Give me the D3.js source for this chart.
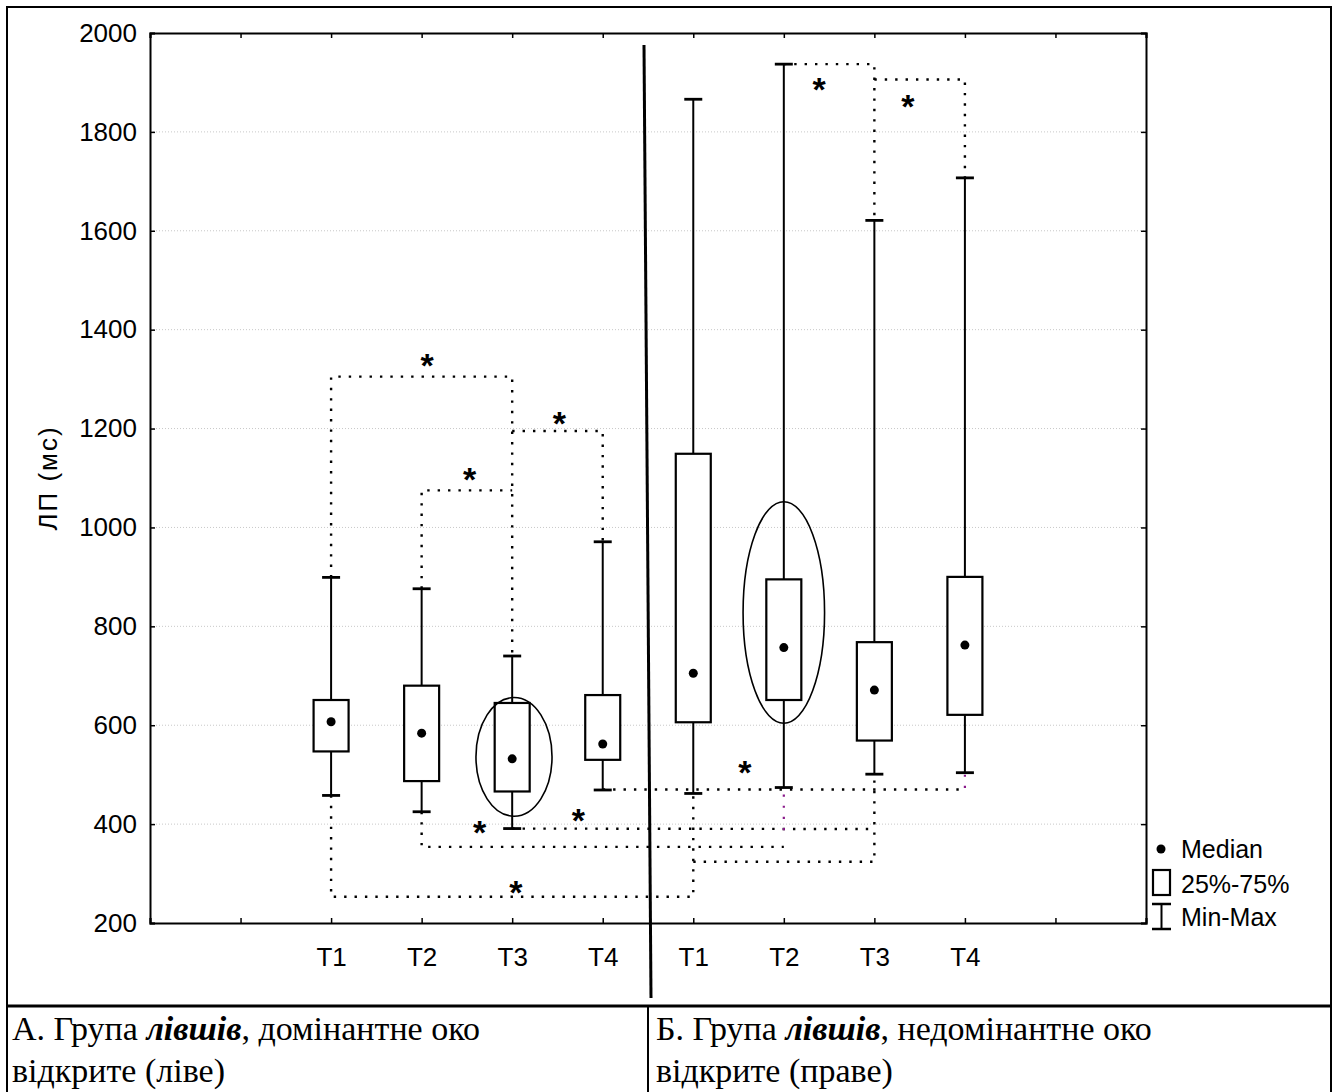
<!DOCTYPE html>
<html>
<head>
<meta charset="utf-8">
<script src="https://cdn.jsdelivr.net/npm/d3@7"></script>
<style>
  body { margin: 0; background: #fff; }
  svg text { font-family: "Liberation Sans", Arial, sans-serif; fill: #000; }
  .caption { font-family: "Liberation Serif", "Times New Roman", serif; font-size: 34px; }
</style>
</head>
<body>
<svg id="chart" width="1338" height="1092"></svg>
<script>
const WIDTH = 1338;
const HEIGHT = 1092;
const PLOT = { left: 150, right: 1146, top: 33, bottom: 923 };
const BOX_WIDTH = 35;
const CAP_WIDTH = 18;

// slot 0..11 on the x axis, boxes sit on slots 2..9
const slots = [2, 3, 4, 5, 6, 7, 8, 9];
const labels = ["T1", "T2", "T3", "T4", "T1", "T2", "T3", "T4"];
const mins = [458, 425, 391, 469, 462, 474, 501, 504];
const q1 = [547, 487, 466, 530, 606, 651, 569, 621];
const medians = [607, 584, 532, 562, 705, 757, 671, 762];
const q3 = [651, 680, 645, 661, 1149, 895, 768, 900];
const maxs = [899, 876, 740, 971, 1866, 1937, 1621, 1707];

const yTicks = [200, 400, 600, 800, 1000, 1200, 1400, 1600, 1800, 2000];

// dotted significance brackets, [slot, value] points
const brackets = [
  [[2, 899], [2, 1305], [4, 1305], [4, 740]],
  [[3, 876], [3, 1075], [4, 1075]],
  [[4, 1195], [5, 1195], [5, 971]],
  [[7, 1937], [8, 1937], [8, 1621]],
  [[8, 1906], [9, 1906], [9, 1707]],
  [[2, 458], [2, 253], [6, 253], [6, 462]],
  [[3, 425], [3, 354], [7, 354]],
  [[4, 391], [8, 390]],
  [[5, 470], [9, 470]],
  [[6, 324], [8, 324], [8, 501]]
];
const purpleBrackets = [
  [[7, 460], [7, 385]],
  [[9, 500], [9, 470]]
];
const stars = [
  [3.06, 1342], [3.53, 1113], [4.52, 1225], [7.39, 1901], [8.37, 1866],
  [4.04, 276], [3.64, 398], [4.73, 422], [6.57, 520]
];
const ellipses = [
  { slot: 4.02, value: 536, rx: 0.42, ry: 120 },
  { slot: 7.0, value: 828, rx: 0.45, ry: 224 }
];

const svg = d3.select("#chart");
const x = d3.scaleLinear().domain([0, 11]).range([PLOT.left, PLOT.right]);
const y = d3.scaleLinear().domain([200, 2000]).range([PLOT.bottom, PLOT.top]);

// outer frame and caption cells
svg.append("rect").attr("x", 7).attr("y", 7).attr("width", 1324).attr("height", 1100)
  .attr("fill", "none").attr("stroke", "#000").attr("stroke-width", 2);
svg.append("line").attr("x1", 7).attr("x2", 1331).attr("y1", 1006).attr("y2", 1006)
  .attr("stroke", "#000").attr("stroke-width", 3);
svg.append("line").attr("x1", 648).attr("x2", 648).attr("y1", 1006).attr("y2", 1092)
  .attr("stroke", "#000").attr("stroke-width", 2);

// grid
svg.append("g").selectAll("line")
  .data(yTicks.slice(1, -1))
  .join("line")
  .attr("x1", PLOT.left).attr("x2", PLOT.right)
  .attr("y1", (d) => y(d)).attr("y2", (d) => y(d))
  .attr("stroke", "#c8c8c8").attr("stroke-width", 1).attr("stroke-dasharray", "1,2");

// axes with inward ticks
const styleAxis = (g) => {
  g.select(".domain").attr("stroke", "#000").attr("stroke-width", 2);
  g.selectAll(".tick line").attr("stroke", "#000").attr("stroke-width", 1.5);
  g.selectAll(".tick text").style("font-size", "26px").style("font-family", "\"Liberation Sans\", Arial, sans-serif");
};

svg.append("g").attr("transform", `translate(${PLOT.left},0)`)
  .call(d3.axisLeft(y).tickValues(yTicks).tickSize(-5).tickPadding(13).tickFormat(d3.format("d")))
  .call(styleAxis);
svg.append("g").attr("transform", `translate(${PLOT.right},0)`)
  .call(d3.axisRight(y).tickValues(yTicks).tickSize(-5).tickFormat(""))
  .call(styleAxis);
svg.append("g").attr("transform", `translate(0,${PLOT.bottom})`)
  .call(d3.axisBottom(x).tickValues(d3.range(0, 12)).tickSize(-5).tickPadding(25)
    .tickFormat((d) => (slots.indexOf(d) >= 0 ? labels[slots.indexOf(d)] : "")))
  .call(styleAxis);
svg.append("g").attr("transform", `translate(0,${PLOT.top})`)
  .call(d3.axisTop(x).tickValues(d3.range(0, 12)).tickSize(-5).tickFormat(""))
  .call(styleAxis);

svg.append("text")
  .attr("transform", `translate(57,478) rotate(-90)`)
  .attr("text-anchor", "middle")
  .style("font-size", "26px")
  .style("letter-spacing", "2px")
  .text("ЛП (мс)");

// dotted brackets
const line = d3.line().x((d) => x(d[0])).y((d) => y(d[1]));
svg.append("g").selectAll("path")
  .data(brackets)
  .join("path")
  .attr("d", line)
  .attr("fill", "none").attr("stroke", "#000").attr("stroke-width", 2.4)
  .attr("stroke-dasharray", "2.4,8");
svg.append("g").selectAll("path")
  .data(purpleBrackets)
  .join("path")
  .attr("d", line)
  .attr("fill", "none").attr("stroke", "#8a1a8a").attr("stroke-width", 2.2)
  .attr("stroke-dasharray", "2.2,9");

// boxes
const boxes = slots.map((slot, i) => ({
  slot, min: mins[i], q1: q1[i], median: medians[i], q3: q3[i], max: maxs[i]
}));

const boxGroup = svg.append("g").selectAll("g")
  .data(boxes)
  .join("g");

boxGroup.append("line")
  .attr("x1", (d) => x(d.slot)).attr("x2", (d) => x(d.slot))
  .attr("y1", (d) => y(d.min)).attr("y2", (d) => y(d.max))
  .attr("stroke", "#000").attr("stroke-width", 2);
boxGroup.selectAll(".cap")
  .data((d) => [d.min, d.max].map((v) => ({ slot: d.slot, v })))
  .join("line")
  .attr("class", "cap")
  .attr("x1", (d) => x(d.slot) - CAP_WIDTH / 2).attr("x2", (d) => x(d.slot) + CAP_WIDTH / 2)
  .attr("y1", (d) => y(d.v)).attr("y2", (d) => y(d.v))
  .attr("stroke", "#000").attr("stroke-width", 2.8);
boxGroup.append("rect")
  .attr("x", (d) => x(d.slot) - BOX_WIDTH / 2)
  .attr("width", BOX_WIDTH)
  .attr("y", (d) => y(d.q3))
  .attr("height", (d) => y(d.q1) - y(d.q3))
  .attr("fill", "#fff").attr("stroke", "#000").attr("stroke-width", 2.2);
boxGroup.append("circle")
  .attr("cx", (d) => x(d.slot)).attr("cy", (d) => y(d.median))
  .attr("r", 4.5).attr("fill", "#000");

// highlight ellipses
svg.append("g").selectAll("ellipse")
  .data(ellipses)
  .join("ellipse")
  .attr("cx", (d) => x(d.slot)).attr("cy", (d) => y(d.value))
  .attr("rx", (d) => x(d.slot + d.rx) - x(d.slot))
  .attr("ry", (d) => y(d.value - d.ry) - y(d.value))
  .attr("fill", "none").attr("stroke", "#000").attr("stroke-width", 1.6);

// significance stars
svg.append("g").selectAll("text")
  .data(stars)
  .join("text")
  .attr("x", (d) => x(d[0])).attr("y", (d) => y(d[1]) + 19)
  .attr("text-anchor", "middle")
  .style("font-size", "34px").style("font-weight", "bold")
  .text("*");

// group separator
svg.append("line").attr("x1", 644).attr("y1", 45).attr("x2", 651).attr("y2", 998)
  .attr("stroke", "#000").attr("stroke-width", 3);

// legend
const legend = svg.append("g").style("font-size", "25px");
legend.append("circle").attr("cx", 1161).attr("cy", 849).attr("r", 4.5).attr("fill", "#000");
legend.append("text").attr("x", 1181).attr("y", 858).text("Median");
legend.append("rect").attr("x", 1153).attr("y", 870).attr("width", 17).attr("height", 25)
  .attr("fill", "#fff").attr("stroke", "#000").attr("stroke-width", 2.2);
legend.append("text").attr("x", 1181).attr("y", 893).text("25%-75%");
legend.append("line").attr("x1", 1161.5).attr("x2", 1161.5).attr("y1", 904).attr("y2", 929)
  .attr("stroke", "#000").attr("stroke-width", 2);
legend.append("line").attr("x1", 1152).attr("x2", 1171).attr("y1", 904).attr("y2", 904)
  .attr("stroke", "#000").attr("stroke-width", 2.5);
legend.append("line").attr("x1", 1152).attr("x2", 1171).attr("y1", 929).attr("y2", 929)
  .attr("stroke", "#000").attr("stroke-width", 2.5);
legend.append("text").attr("x", 1181).attr("y", 926).text("Min-Max");

// captions
const captions = [
  { x: 12, lead: "А. Група ", rest: ", домінантне око", second: "відкрите (ліве)" },
  { x: 656, lead: "Б. Група ", rest: ", недомінантне око", second: "відкрите (праве)" }
];
captions.forEach((c) => {
  const t = svg.append("text").attr("class", "caption").attr("x", c.x).attr("y", 1040);
  t.append("tspan").text(c.lead);
  t.append("tspan").style("font-weight", "bold").style("font-style", "italic").text("лівшів");
  t.append("tspan").text(c.rest);
  svg.append("text").attr("class", "caption").attr("x", c.x).attr("y", 1082).text(c.second);
});
</script>
</body>
</html>
